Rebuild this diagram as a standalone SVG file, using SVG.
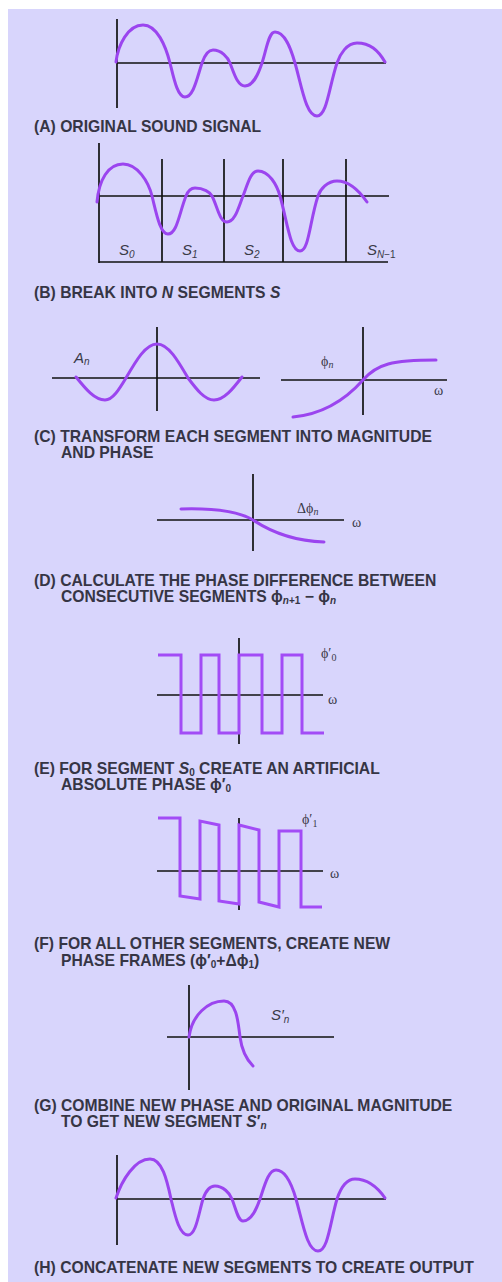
<svg xmlns="http://www.w3.org/2000/svg" width="502" height="1282" viewBox="0 0 502 1282">
<style>
.ax{stroke:#111;stroke-width:1.7;fill:none;stroke-linecap:butt}
.wv{stroke:#9b45ef;stroke-width:3;fill:none;stroke-linecap:round;stroke-linejoin:round}
.sq{stroke:#a24cf6;stroke-width:3;fill:none;stroke-linejoin:miter;stroke-linecap:butt}
.cap{font-family:"Liberation Sans",Arial,"DejaVu Sans",sans-serif;font-weight:bold;font-size:15.7px;fill:#363545}
.it{font-style:italic}
.s{font-size:10px}
.seg{font-family:"Liberation Sans",Arial,sans-serif;font-style:italic;font-size:15px;fill:#3a3a48}
.gr{font-family:"Liberation Serif","Times New Roman","DejaVu Serif",serif;font-size:14px;fill:#3a3a48}
.sb{font-size:10px}
</style>
<rect x="8" y="9" width="494" height="1273" fill="#d8d5fc"/>

<g id="panelA">
<line class="ax" x1="117" y1="19" x2="117" y2="108"/>
<line class="ax" x1="117" y1="63" x2="386" y2="63"/>
<path class="wv" d="M116,62 C118,45 128,25 143,25 C157,25 165.7,46 170,63 C173.8,78.3 177.5,97 185,97 C193.5,97 196.9,78.3 202,63 C204,57.1 207.5,50 213,50 C221.5,50 227.7,57.1 230,63 C234.1,73.4 237.5,86 245,86 C253.5,86 258.5,73.4 262,63 C266.7,49 268.5,32 275,32 C285,32 291,49 295,63 C301.8,86.9 306,116 317,116 C327,116 329,86.9 337,63 C340,54 347,43 357,43 C370,43 378,50 385,62"/>
<text class="cap" x="34" y="132">(A) ORIGINAL SOUND SIGNAL</text>
</g>

<g id="panelB">
<line class="ax" x1="99" y1="143" x2="99" y2="263"/>
<line class="ax" x1="99" y1="196" x2="389" y2="196"/>
<line class="ax" x1="99" y1="262" x2="388" y2="262"/>
<line class="ax" x1="162" y1="159" x2="162" y2="262"/>
<line class="ax" x1="224" y1="159" x2="224" y2="262"/>
<line class="ax" x1="283" y1="159" x2="283" y2="262"/>
<line class="ax" x1="346" y1="159" x2="346" y2="262"/>
<path class="wv" d="M97,202 C99,180 108,164 123,164 C137.5,164 148.4,181.6 152,196 C156.3,213.1 160,234 168,234 C177,234 179.2,213.1 186,196 C187.4,192.4 190.5,188 195,188 C203.5,188 210.2,192.4 212,196 C217.9,207.7 219.5,222 227,222 C235,222 238.3,207.7 243,196 C247.5,184.75 250.5,171 258,171 C269,171 276.8,184.75 280,196 C287.1,220.75 290,251 300,251 C309,251 309.75,220.75 318,196 C320.25,189.25 327.5,181 337,181 C350,181 360,192 367,202"/>
<text class="seg" x="119" y="255">S<tspan class="sb" dy="3">0</tspan></text>
<text class="seg" x="182" y="255">S<tspan class="sb" dy="3">1</tspan></text>
<text class="seg" x="244" y="255">S<tspan class="sb" dy="3">2</tspan></text>
<text class="seg" x="367" y="255">S<tspan class="sb" dy="3">N</tspan><tspan class="sb" font-style="normal">−1</tspan></text>
<text class="cap" x="34" y="298">(B) BREAK INTO <tspan class="it">N</tspan> SEGMENTS <tspan class="it">S</tspan></text>
</g>

<g id="panelC">
<line class="ax" x1="52" y1="378" x2="260" y2="378"/>
<line class="ax" x1="157" y1="327" x2="157" y2="411"/>
<path class="wv" d="M76,377 C85.5,388.8 94.5,400 105,400 C112.6,400 119.2,389.3 126,378 C136.1,360.6 145.7,344 157,344 C168.3,344 177.9,360.6 188,378 C196.5,389.3 204.6,400 214,400 C224.2,400 232.9,388.8 242,377"/>
<text class="seg" x="74" y="363" font-size="14">A<tspan class="sb" dy="2">n</tspan></text>
<line class="ax" x1="281" y1="380" x2="447" y2="380"/>
<line class="ax" x1="363" y1="327" x2="363" y2="415"/>
<path class="wv" d="M293,417 C325,414 347,398 363,380 C377,364 392,360 436,360"/>
<text class="gr" x="321" y="366">ϕ<tspan class="sb it" dy="2">n</tspan></text>
<text class="gr" x="434" y="395" font-size="13">ω</text>
<text class="cap" x="34" y="442">(C) TRANSFORM EACH SEGMENT INTO MAGNITUDE</text>
<text class="cap" x="61" y="458">AND PHASE</text>
</g>

<g id="panelD">
<line class="ax" x1="157" y1="520" x2="344" y2="520"/>
<line class="ax" x1="253" y1="474" x2="253" y2="551"/>
<path class="wv" d="M181,509 C215,508 238,511 253,520 C268,530 290,541 324,542"/>
<text class="gr" x="297" y="513">Δϕ<tspan class="sb it" dy="2">n</tspan></text>
<text class="gr" x="352" y="527" font-size="13">ω</text>
<text class="cap" x="34" y="586">(D) CALCULATE THE PHASE DIFFERENCE BETWEEN</text>
<text class="cap" x="61" y="602">CONSECUTIVE SEGMENTS ϕ<tspan class="s it" dy="2">n</tspan><tspan class="s">+1</tspan><tspan dy="-2"> − ϕ</tspan><tspan class="s it" dy="2">n</tspan></text>
</g>

<g id="panelE">
<line class="ax" x1="157" y1="695" x2="323" y2="695"/>
<line class="ax" x1="239" y1="638" x2="239" y2="744"/>
<path class="sq" d="M158,655 H181 V733 H201 V655 H219 V733 H239 V655 H262 V733 H282 V655 H302 V733 H324"/>
<text class="gr" x="321" y="658">ϕ′<tspan class="sb" dy="3">0</tspan></text>
<text class="gr" x="328" y="704" font-size="13">ω</text>
<text class="cap" x="34" y="774">(E) FOR SEGMENT <tspan class="it">S</tspan><tspan class="s" dy="2">0</tspan><tspan dy="-2"> CREATE AN ARTIFICIAL</tspan></text>
<text class="cap" x="61" y="790">ABSOLUTE PHASE ϕ′<tspan class="s" dy="2">0</tspan></text>
</g>

<g id="panelF">
<line class="ax" x1="157" y1="871" x2="323" y2="871"/>
<line class="ax" x1="239" y1="818" x2="239" y2="910"/>
<path class="sq" d="M158,818 H180 V896 L200,899 V821 L219,825 V901 L239,904 V825 L259,830 V902 L279,907 V831 H301 V907 H322"/>
<text class="gr" x="302" y="824">ϕ′<tspan class="sb" dy="3">1</tspan></text>
<text class="gr" x="330" y="878" font-size="13">ω</text>
<text class="cap" x="34" y="949">(F) FOR ALL OTHER SEGMENTS, CREATE NEW</text>
<text class="cap" x="61" y="966">PHASE FRAMES (ϕ′<tspan class="s" dy="2">0</tspan><tspan dy="-2">+Δϕ</tspan><tspan class="s" dy="2">1</tspan><tspan dy="-2">)</tspan></text>
</g>

<g id="panelG">
<line class="ax" x1="167" y1="1037" x2="334" y2="1037"/>
<line class="ax" x1="189" y1="985" x2="189" y2="1090"/>
<path class="wv" d="M189,1037 C192,1015 208,1001 224,1001 C236,1001 238,1020 240,1037 C242,1052 247,1060 253,1066"/>
<text class="seg" x="271" y="1020" font-size="14">S′<tspan class="sb" dy="3">n</tspan></text>
<text class="cap" x="34" y="1111">(G) COMBINE NEW PHASE AND ORIGINAL MAGNITUDE</text>
<text class="cap" x="61" y="1127">TO GET NEW SEGMENT <tspan class="it">S</tspan>′<tspan class="s it" dy="2">n</tspan></text>
</g>

<g id="panelH">
<line class="ax" x1="117" y1="1155" x2="117" y2="1245"/>
<line class="ax" x1="117" y1="1199" x2="386" y2="1199"/>
<path class="wv" d="M116,1198 C122,1180 135,1159 150,1159 C162,1159 167,1180 171,1199 C174.8,1214.3 179,1235 188,1235 C196,1235 198.5,1214 203,1199 C205,1193 209,1186 215,1186 C223,1186 229.7,1193 232,1199 C236.1,1209.4 238,1221 243,1221 C251.5,1221 256.5,1209 260,1199 C264.7,1185 268.5,1170 276,1170 C286,1170 292,1185 296,1199 C302.8,1222.9 307,1251 318,1251 C328,1251 330,1222.9 337,1199 C340,1190 346,1179 355,1179 C368,1179 378,1188 385,1198"/>
<text class="cap" x="34" y="1273">(H) CONCATENATE NEW SEGMENTS TO CREATE OUTPUT</text>
</g>
</svg>
